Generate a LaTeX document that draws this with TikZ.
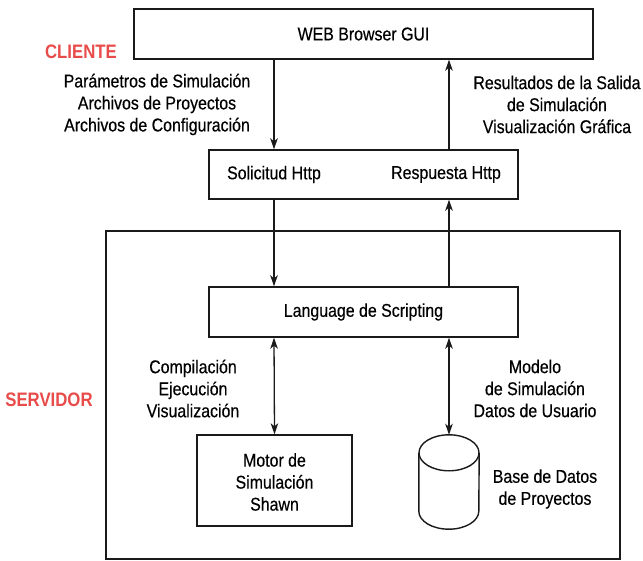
\documentclass[tikz,border=0pt]{standalone}
\usepackage{fontspec}
\setmainfont{Liberation Sans}[FakeStretch=0.86,FakeBold=0.4]
\newfontfamily\labfont{Liberation Sans}[FakeStretch=0.86]
\usetikzlibrary{arrows.meta,calc}
\definecolor{labred}{HTML}{E84C4A}
\definecolor{linegray}{HTML}{1A1A1A}
\begin{document}
\begin{tikzpicture}[x=1pt,y=-1pt,
  box/.style={draw=linegray,line width=1.4pt,inner sep=0pt},
  txt/.style={font=\fontsize{18.5}{22}\selectfont,align=center,inner sep=0pt},
  side/.style={font=\labfont\fontsize{19.5}{22}\selectfont\bfseries,text=labred,inner sep=0pt},
  arr/.style={draw=linegray,line width=1.3pt,-{Stealth[length=11pt,width=7.5pt,inset=3pt]}},
  darr/.style={draw=linegray,line width=1.3pt,{Stealth[length=11pt,width=7.5pt,inset=3pt]}-{Stealth[length=11pt,width=7.5pt,inset=3pt]}}]
\useasboundingbox (0,0) rectangle (643,561);
% boxes
\node[box,minimum width=459pt,minimum height=50pt] (web) at (363.5,34) {};
\node[txt] (webt) at (363.5,34) {WEB Browser GUI};
\node[box,minimum width=309pt,minimum height=49pt] (http) at (363.5,174.5) {};
\node[box,minimum width=309pt,minimum height=50pt] (lang) at (363.5,312) {};
\node[txt] (langt) at (363.5,312) {Language de Scripting};
\node[box,minimum width=514pt,minimum height=328pt] (server) at (363,395) {};
\node[box,minimum width=155pt,minimum height=91pt] (motor) at (274.5,480.5) {};
\node[txt] (motort) at (274.5,482) {Motor de\\Simulación\\Shawn};
% cylinder
\node[minimum width=60pt,minimum height=94pt,inner sep=0pt] (db) at (449,482) {};
\draw[linegray,line width=1.4pt] ($(db.north)+(0,18)$) ellipse [x radius=30, y radius=18];
\draw[linegray,line width=1.4pt] ($(db.north west)+(0,18)$) -- ($(db.south west)+(0,-18)$)
  arc[start angle=180,end angle=0,x radius=30,y radius=18] -- ($(db.north east)+(0,18)$);
\node[txt] (dbt) at (545,489) {Base de Datos\\de Proyectos};
% column coordinates
\coordinate (lx) at (274,0);
\coordinate (rx) at (449,0);
\node[txt] (solt) at (274,174.5) {Solicitud Http};
\node[txt] (rest) at (446,174.5) {Respuesta Http};
% arrows
\draw[arr] (web.south -| lx) -- (http.north -| lx);
\draw[arr] (http.north -| rx) -- (web.south -| rx);
\draw[arr] (http.south -| lx) -- (lang.north -| lx);
\draw[arr] (lang.north -| rx) -- (http.south -| rx);
\draw[darr] (lang.south -| lx) -- (motor.north);
\draw[darr] (lang.south -| rx) -- (db.north);
% labels
\node[txt] (l1) at (157,104.5) {Parámetros de Simulación\\Archivos de Proyectos\\Archivos de Configuración};
\node[txt] (l2) at (557,104.5) {Resultados de la Salida\\de Simulación\\Visualización Gráfica};
\node[txt] (l3) at (193,388.5) {Compilación\\Ejecución\\Visualización};
\node[txt] (l4) at (535,388.5) {Modelo\\de Simulación\\Datos de Usuario};
\node[side] (cli) at (81,52) {CLIENTE};
\node[side] (srv) at (49,400) {SERVIDOR};
\end{tikzpicture}
\end{document}
